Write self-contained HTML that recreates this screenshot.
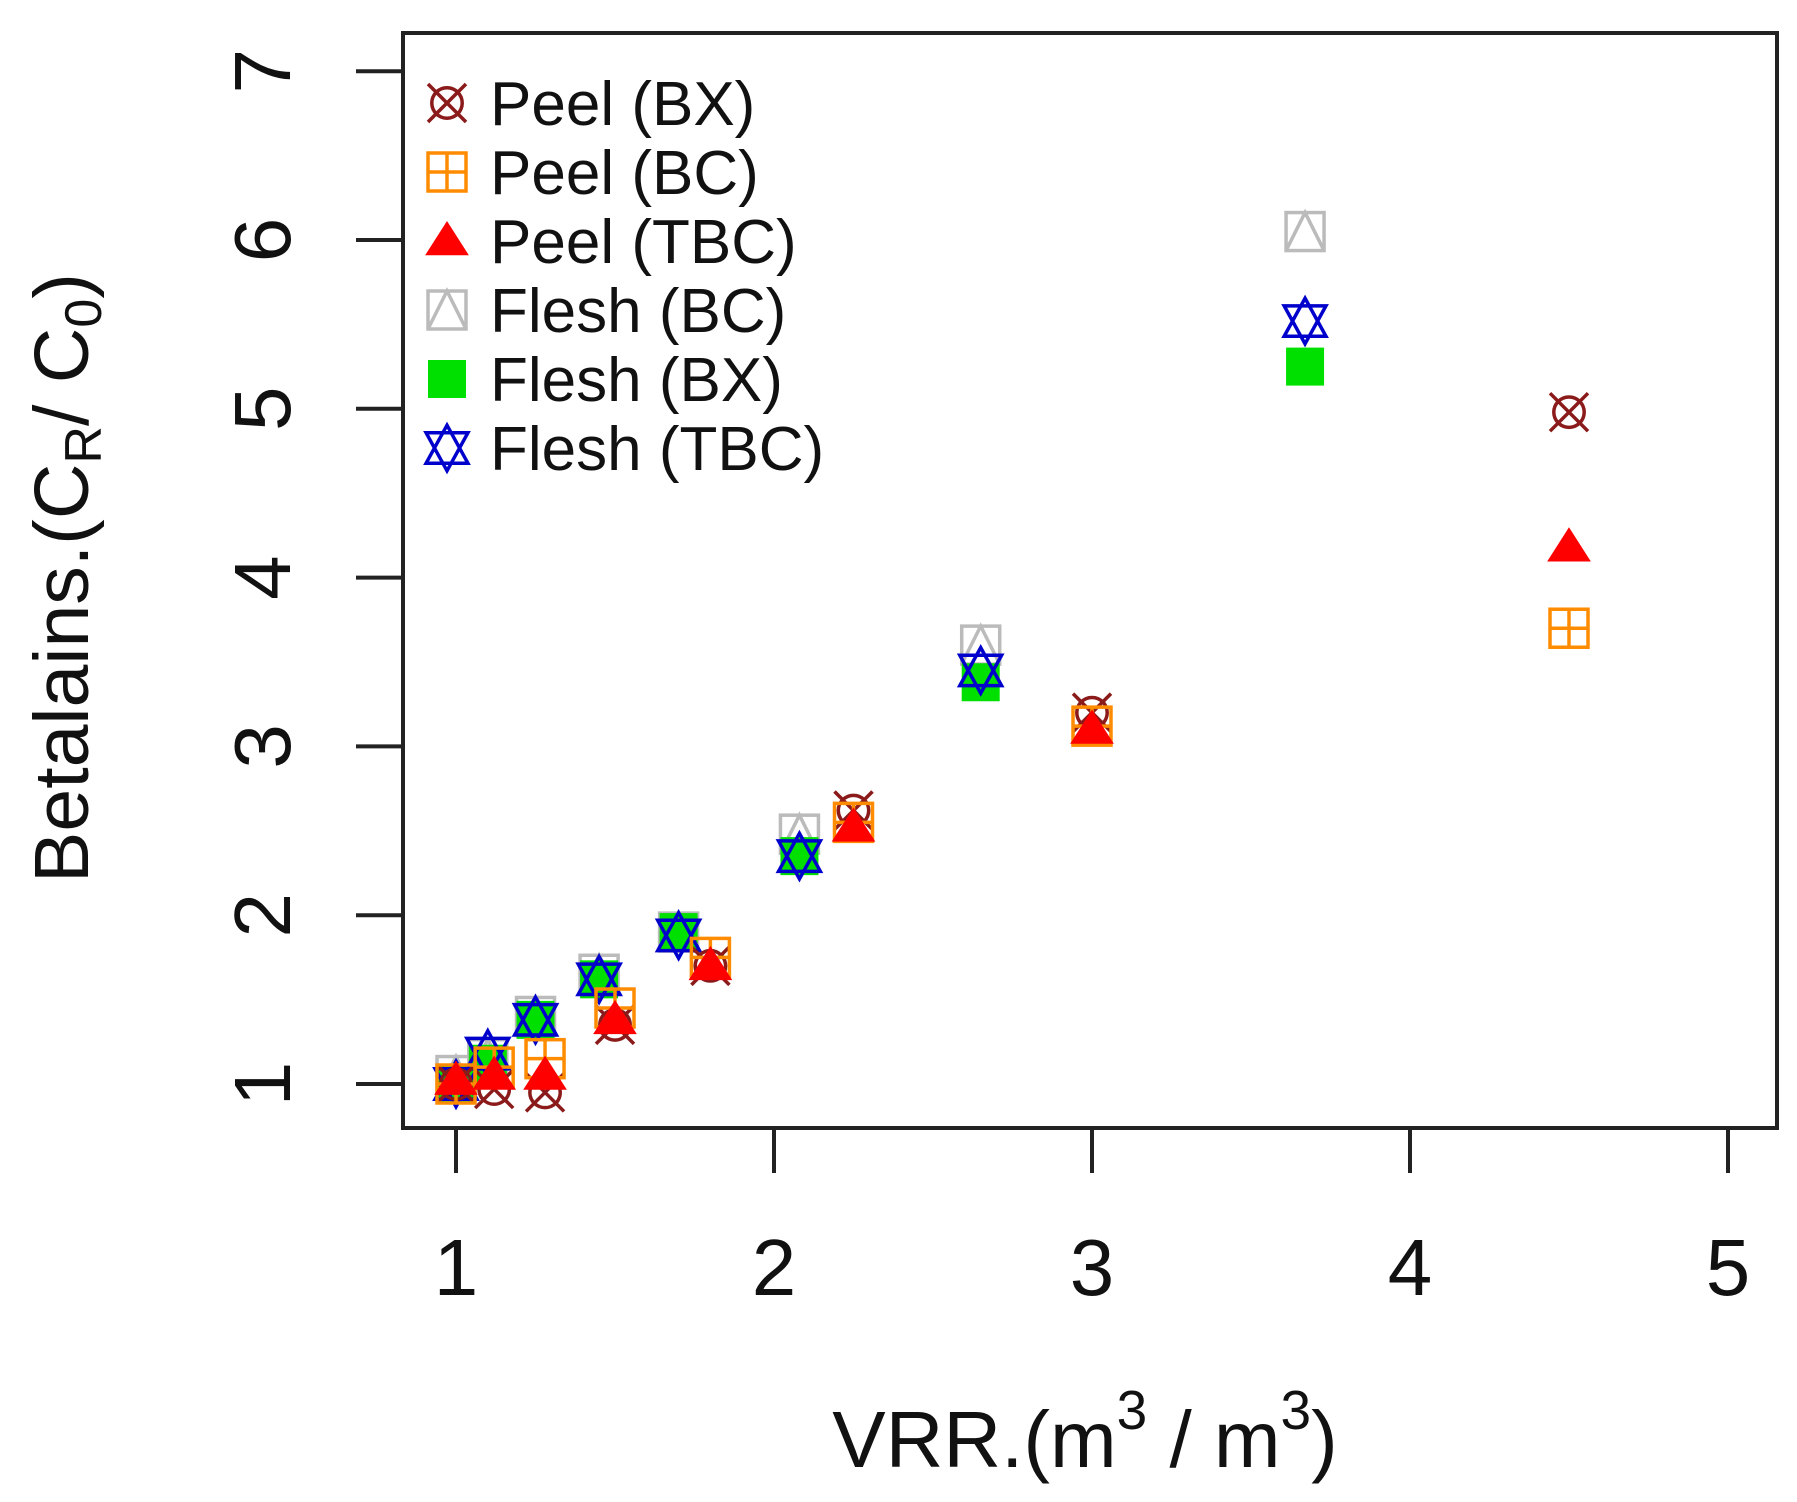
<!DOCTYPE html>
<html><head><meta charset="utf-8">
<style>
html,body{margin:0;padding:0;background:#fff;}
svg{display:block;font-family:"Liberation Sans",Arial,sans-serif;}
</style></head>
<body>
<svg id="chart" width="1797" height="1502" viewBox="0 0 1797 1502" xmlns="http://www.w3.org/2000/svg">
<rect x="0" y="0" width="1797" height="1502" fill="#fff"/>
<rect x="403" y="33" width="1374" height="1095" fill="none" stroke="#222" stroke-width="4"/>
<g id="axes"></g>
<g id="marks"></g>
<g id="legend"></g>
<text transform="translate(88,578) rotate(-90)" text-anchor="middle" font-size="77" fill="#111">Betalains.(C<tspan font-size="52" dy="13">R</tspan><tspan dy="-13">/ C</tspan><tspan font-size="52" dy="13">0</tspan><tspan dy="-13">)</tspan></text>
<text x="1085" y="1467" text-anchor="middle" font-size="80" fill="#111">VRR.(m<tspan font-size="55" dy="-38">3</tspan><tspan dy="38"> / m</tspan><tspan font-size="55" dy="-38">3</tspan><tspan dy="38">)</tspan></text>
</svg>
<script>
const xTicks = [1, 2, 3, 4, 5];
const yTicks = [1, 2, 3, 4, 5, 6, 7];
const seriesNames = ["Peel (BX)", "Peel (BC)", "Peel (TBC)", "Flesh (BC)", "Flesh (BX)", "Flesh (TBC)"];
const peelX = [1.0, 1.12, 1.28, 1.5, 1.8, 2.25, 3.0, 4.5];
const fleshX = [1.0, 1.1, 1.25, 1.45, 1.7, 2.08, 2.65, 3.67];
const peelBX = [1.0, 0.97, 0.95, 1.35, 1.7, 2.62, 3.2, 4.98];
const peelBC = [1.0, 1.1, 1.15, 1.45, 1.75, 2.55, 3.12, 3.7];
const peelTBC = [1.02, 1.05, 1.05, 1.38, 1.7, 2.52, 3.1, 4.18];
const fleshBC = [1.05, 1.15, 1.4, 1.65, 1.9, 2.48, 3.6, 6.05];
const fleshBX = [1.0, 1.12, 1.38, 1.62, 1.9, 2.35, 3.38, 5.25];
const fleshTBC = [1.0, 1.18, 1.38, 1.62, 1.88, 2.35, 3.45, 5.52];

const NS = "http://www.w3.org/2000/svg";
function xs(v){ return 456 + (v - 1) * 318; }
function ys(v){ return 1084 - (v - 1) * 168.8; }
function mk(tag, attrs, parent){
  const e = document.createElementNS(NS, tag);
  for (const k in attrs) e.setAttribute(k, attrs[k]);
  parent.appendChild(e);
  return e;
}
const axes = document.getElementById("axes");
xTicks.forEach(t => {
  const l = mk("line", {x1: xs(t), x2: xs(t), y1: 1128, y2: 1173, stroke: "#222", "stroke-width": 4}, axes);
  
  
  const tx = mk("text", {x: xs(t), y: 1295, "text-anchor": "middle", "font-size": 80, fill: "#111"}, axes);
  tx.textContent = t;
  
  
});
yTicks.forEach(t => {
  const l = mk("line", {x1: 356, x2: 403, y1: ys(t), y2: ys(t), stroke: "#222", "stroke-width": 4}, axes);
  
  
  const tx = mk("text", {transform: "translate(290," + ys(t) + ") rotate(-90)", "text-anchor": "middle", "font-size": 80, fill: "#111"}, axes);
  tx.textContent = t;
  
  
});

const S = 19;
function drawMarker(type, cx, cy, g){
  const sw = 3.5;
  if (type === 0) {
    mk("circle", {cx: cx, cy: cy, r: S*0.8, fill: "none", stroke: "#8b1a1a", "stroke-width": sw}, g);
    mk("line", {x1: cx-S, y1: cy-S, x2: cx+S, y2: cy+S, stroke: "#8b1a1a", "stroke-width": sw}, g);
    mk("line", {x1: cx-S, y1: cy+S, x2: cx+S, y2: cy-S, stroke: "#8b1a1a", "stroke-width": sw}, g);
  } else if (type === 1) {
    mk("rect", {x: cx-S, y: cy-S, width: 2*S, height: 2*S, fill: "none", stroke: "#ff8c00", "stroke-width": sw}, g);
    mk("line", {x1: cx, y1: cy-S, x2: cx, y2: cy+S, stroke: "#ff8c00", "stroke-width": sw}, g);
    mk("line", {x1: cx-S, y1: cy, x2: cx+S, y2: cy, stroke: "#ff8c00", "stroke-width": sw}, g);
  } else if (type === 2) {
    mk("polygon", {points: (cx)+","+(cy-S*1.05)+" "+(cx+S*1.15)+","+(cy+S*0.75)+" "+(cx-S*1.15)+","+(cy+S*0.75), fill: "#ff0000"}, g);
  } else if (type === 3) {
    mk("rect", {x: cx-S, y: cy-S, width: 2*S, height: 2*S, fill: "none", stroke: "#bbbbbb", "stroke-width": sw}, g);
    mk("polyline", {points: (cx-S)+","+(cy+S)+" "+cx+","+(cy-S)+" "+(cx+S)+","+(cy+S), fill: "none", stroke: "#bbbbbb", "stroke-width": sw}, g);
  } else if (type === 4) {
    mk("rect", {x: cx-S, y: cy-S, width: 2*S, height: 2*S, fill: "#00e000"}, g);
  } else {
    mk("polygon", {points: cx+","+(cy-S*1.2)+" "+(cx+S*1.1)+","+(cy+S*0.8)+" "+(cx-S*1.1)+","+(cy+S*0.8), fill: "none", stroke: "#0000cc", "stroke-width": sw}, g);
    mk("polygon", {points: cx+","+(cy+S*1.2)+" "+(cx+S*1.1)+","+(cy-S*0.8)+" "+(cx-S*1.1)+","+(cy-S*0.8), fill: "none", stroke: "#0000cc", "stroke-width": sw}, g);
  }
}

const marks = document.getElementById("marks");
const drawOrder = [
  [3, fleshX, fleshBC, "flesh-bc-point"],
  [4, fleshX, fleshBX, "flesh-bx-point"],
  [5, fleshX, fleshTBC, "flesh-tbc-point"],
  [0, peelX, peelBX, "peel-bx-point"],
  [1, peelX, peelBC, "peel-bc-point"],
  [2, peelX, peelTBC, "peel-tbc-point"]
];
drawOrder.forEach(s => {
  const xsArr = s[1], ysArr = s[2];
  for (let i = 0; i < ysArr.length; i++) {
    const g = mk("g", {}, marks);
    
    
    drawMarker(s[0], xs(xsArr[i]), ys(ysArr[i]), g);
  }
});

const legend = document.getElementById("legend");
seriesNames.forEach((name, i) => {
  const cy = 103 + i * 69;
  const g = mk("g", {}, legend);
  
  
  drawMarker(i, 447, cy, g);
  const t = mk("text", {x: 490, y: cy + 22, "font-size": 62, fill: "#111"}, g);
  t.textContent = name;
});
</script>
</body></html>
